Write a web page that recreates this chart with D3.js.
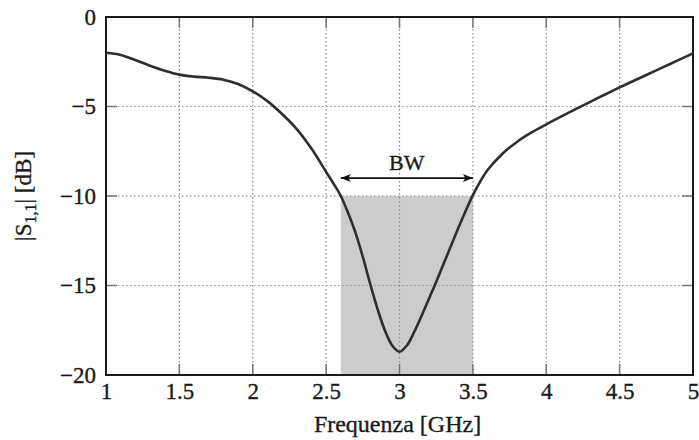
<!DOCTYPE html>
<html><head><meta charset="utf-8">
<script src="https://cdn.jsdelivr.net/npm/d3@7"></script>
<style>body{margin:0;background:#fff}svg{display:block}text{font-family:"Liberation Serif","Times New Roman",serif;fill:#1a1a1a;stroke:#1a1a1a;stroke-width:0.35px}</style>
</head><body><svg id="c" width="699" height="440"></svg>
<script>
const freq = [1.0,1.1,1.2,1.3,1.4,1.5,1.6,1.7,1.8,1.9,2.0,2.1,2.2,2.3,2.4,2.5,2.55,2.6,2.65,2.7,2.75,2.8,2.85,2.9,2.95,3.0,3.05,3.1,3.15,3.2,3.25,3.3,3.35,3.4,3.45,3.5,3.55,3.6,3.7,3.8,3.9,4.0,4.1,4.2,4.3,4.4,4.5,4.6,4.7,4.8,4.9,5.0];
const s11  = [-2.0,-2.12,-2.4,-2.72,-3.0,-3.22,-3.33,-3.39,-3.5,-3.74,-4.15,-4.7,-5.42,-6.26,-7.35,-8.65,-9.3,-10.0,-10.95,-12.05,-13.4,-14.9,-16.3,-17.5,-18.35,-18.7,-18.35,-17.6,-16.7,-15.75,-14.8,-13.8,-12.8,-11.8,-10.85,-9.95,-9.2,-8.55,-7.65,-6.98,-6.45,-6.0,-5.57,-5.15,-4.74,-4.33,-3.93,-3.55,-3.17,-2.79,-2.41,-2.03];
const xTicks = [1,1.5,2,2.5,3,3.5,4,4.5,5];
const yTicks = [0,-5,-10,-15,-20];
const bandLow = 2.6, bandHigh = 3.5, bandLevel = -10, arrowLevel = -9;
const bwLabel = "BW";
const xTitle = "Frequenza [GHz]";

const svg = d3.select("#c");
const L=106, R=693, T=17, B=375;
const x = d3.scaleLinear().domain([1,5]).range([L,R]);
const y = d3.scaleLinear().domain([-20,0]).range([B,T]);
const fmt = v => String(v).replace("-", "\u2212");

// shaded band
svg.append("rect").attr("x",x(bandLow)).attr("y",y(bandLevel))
  .attr("width",x(bandHigh)-x(bandLow)).attr("height",y(-20)-y(bandLevel))
  .attr("fill","#cccccc");

// grid
const g = svg.append("g").attr("stroke","#8a8a8a").attr("stroke-width",1.2).attr("stroke-dasharray","1.5,2.5");
xTicks.slice(1,-1).forEach(t=>g.append("line").attr("x1",x(t)).attr("x2",x(t)).attr("y1",T).attr("y2",B));
yTicks.slice(1,-1).forEach(t=>g.append("line").attr("y1",y(t)).attr("y2",y(t)).attr("x1",L).attr("x2",R));

// ticks (inside, all four sides)
const tk = svg.append("g").attr("stroke","#777").attr("stroke-width",1.5);
const tl = 11;
xTicks.slice(1,-1).forEach(t=>{
  tk.append("line").attr("x1",x(t)).attr("x2",x(t)).attr("y1",B).attr("y2",B-tl);
  tk.append("line").attr("x1",x(t)).attr("x2",x(t)).attr("y1",T).attr("y2",T+tl);
});
yTicks.slice(1,-1).forEach(t=>{
  tk.append("line").attr("y1",y(t)).attr("y2",y(t)).attr("x1",L).attr("x2",L+tl);
  tk.append("line").attr("y1",y(t)).attr("y2",y(t)).attr("x1",R).attr("x2",R-tl);
});

// axes with d3 for labels
const xa = svg.append("g").attr("transform",`translate(0,${B})`)
  .call(d3.axisBottom(x).tickValues(xTicks).tickSize(0).tickPadding(8).tickFormat(d=>String(d)));
const ya = svg.append("g").attr("transform",`translate(${L},0)`)
  .call(d3.axisLeft(y).tickValues(yTicks).tickSize(0).tickPadding(10).tickFormat(fmt));
[xa,ya].forEach(a=>{a.select(".domain").remove();a.selectAll("text").attr("font-size",23).attr("font-family",'"Liberation Serif",serif').attr("fill","#1a1a1a");});

// frame
svg.append("rect").attr("x",L).attr("y",T).attr("width",R-L).attr("height",B-T)
  .attr("fill","none").attr("stroke","#1a1a1a").attr("stroke-width",2);

// curve
const line = d3.line().x((d,i)=>x(freq[i])).y(d=>y(d)).curve(d3.curveCatmullRom.alpha(0.5));
svg.append("path").attr("d",line(s11)).attr("fill","none").attr("stroke","#2e2e2e").attr("stroke-width",2.6);

// BW arrow
const defs = svg.append("defs");
defs.append("marker").attr("id","ah").attr("viewBox","0 0 10 10").attr("refX",10).attr("refY",5)
  .attr("markerWidth",12).attr("markerHeight",10).attr("markerUnits","userSpaceOnUse").attr("orient","auto-start-reverse")
  .append("path").attr("d","M0,1 L10,5 L0,9 L2.5,5 Z").attr("fill","#111");
svg.append("line").attr("x1",x(bandLow)).attr("x2",x(bandHigh)).attr("y1",y(arrowLevel)).attr("y2",y(arrowLevel))
  .attr("stroke","#111").attr("stroke-width",1.6).attr("marker-start","url(#ah)").attr("marker-end","url(#ah)");
svg.append("text").attr("x",(x(bandLow)+x(bandHigh))/2).attr("y",y(arrowLevel)-8).attr("text-anchor","middle")
  .attr("font-size",22).text(bwLabel);

// axis titles
svg.append("text").attr("x",(L+R)/2-2).attr("y",432).attr("text-anchor","middle").attr("font-size",24).text(xTitle);
const yt = svg.append("text").attr("transform",`translate(31,${(T+B)/2}) rotate(-90)`).attr("text-anchor","middle").attr("font-size",23);
yt.append("tspan").text("|S");
yt.append("tspan").attr("font-size",16).attr("dy",5).text("1,1");
yt.append("tspan").attr("dy",-5).text("| [dB]");
</script></body></html>
